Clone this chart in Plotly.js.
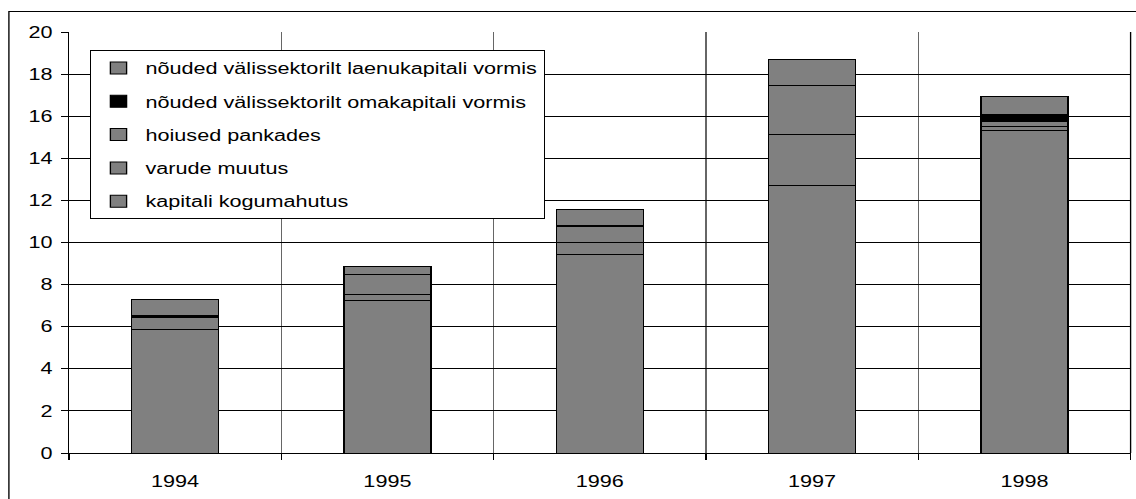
<!DOCTYPE html>
<html>
<head>
<meta charset="utf-8">
<script src="https://cdn.plot.ly/plotly-3.0.1.min.js"></script>
<style>
html,body{margin:0;padding:0;background:#fff;overflow:hidden;}
#wrap{width:1136px;height:499px;overflow:hidden;}
#chart{width:841px;height:499px;transform:scaleX(1.35077);transform-origin:0 0;}
</style>
</head>
<body>
<div id="wrap"><div id="chart"></div></div>
<script>
const years = ["1994", "1995", "1996", "1997", "1998"];
const kapitaliKogumahutus = [5.86, 7.24, 9.44, 12.73, 15.30];
const varudeMuutus = [0.56, 0.27, 0.54, 2.40, 0.19];
const hoiusedPankades = [0.03, 0.95, 0.80, 2.33, 0.25];
const omakapitali = [0.08, 0.02, 0.02, 0.02, 0.32];
const laenukapitali = [0.78, 0.40, 0.78, 1.22, 0.86];
const yTicks = [0, 2, 4, 6, 8, 10, 12, 14, 16, 18, 20];

const names = [
  "kapitali kogumahutus",
  "varude muutus",
  "hoiused pankades",
  "nõuded välissektorilt omakapitali vormis",
  "nõuded välissektorilt laenukapitali vormis"
];
const series = [kapitaliKogumahutus, varudeMuutus, hoiusedPankades, omakapitali, laenukapitali];
const fills = ["#808080", "#808080", "#808080", "#000000", "#808080"];

const traces = series.map((vals, i) => ({
  type: "bar",
  x: years,
  y: vals,
  name: names[i],
  legendgroup: "g" + i,
  legendrank: series.length - i,
  marker: { color: fills[i], line: { color: "#000000", width: 1 } },
  hoverinfo: "skip"
}));

const FONT = "Arial, 'Liberation Sans', sans-serif";

const layout = {
  width: 841,
  height: 499,
  margin: { l: 51, r: 4, t: 32, b: 46 },
  paper_bgcolor: "#ffffff",
  plot_bgcolor: "#ffffff",
  barmode: "stack",
  bargap: 0.59,
  font: { family: FONT, size: 16, color: "#000000" },
  showlegend: true,
  legend: {
    x: 0.02, y: 0.957, xanchor: "left", yanchor: "top",
    traceorder: "grouped",
    tracegroupgap: 9.5,
    bgcolor: "#ffffff",
    bordercolor: "#000000",
    borderwidth: 1,
    font: { family: FONT, size: 16, color: "#000000" }
  },
  xaxis: {
    type: "category",
    tickson: "boundaries",
    ticks: "outside",
    ticklen: 6,
    tickcolor: "#000000",
    ticklabelstandoff: 14,
    showgrid: true,
    gridcolor: "#666666",
    gridwidth: 1,
    showline: true,
    linecolor: "#000000",
    linewidth: 1,
    automargin: false,
    tickfont: { family: FONT, size: 16, color: "#000000" },
    fixedrange: true
  },
  yaxis: {
    range: [0, 20],
    tickvals: yTicks,
    ticktext: yTicks.map(String),
    ticks: "outside",
    ticklen: 5,
    tickcolor: "#000000",
    ticklabelstandoff: 3,
    showgrid: true,
    gridcolor: "#000000",
    gridwidth: 1,
    zeroline: false,
    showline: true,
    linecolor: "#000000",
    linewidth: 1,
    automargin: false,
    tickfont: { family: FONT, size: 16, color: "#000000" },
    fixedrange: true
  },
  shapes: [
    { type: "rect", xref: "paper", yref: "paper",
      x0: -0.0565, x1: 1.01, y0: -0.13, y1: 1.0487,
      line: { color: "#000000", width: 1 }, fillcolor: "rgba(0,0,0,0)", layer: "below" },
    { type: "line", xref: "paper", yref: "paper",
      x0: 1, x1: 1, y0: 0, y1: 1,
      line: { color: "#000000", width: 1 } }
  ]
};

Plotly.newPlot("chart", traces, layout, { staticPlot: true, displayModeBar: false });
</script>
</body>
</html>
